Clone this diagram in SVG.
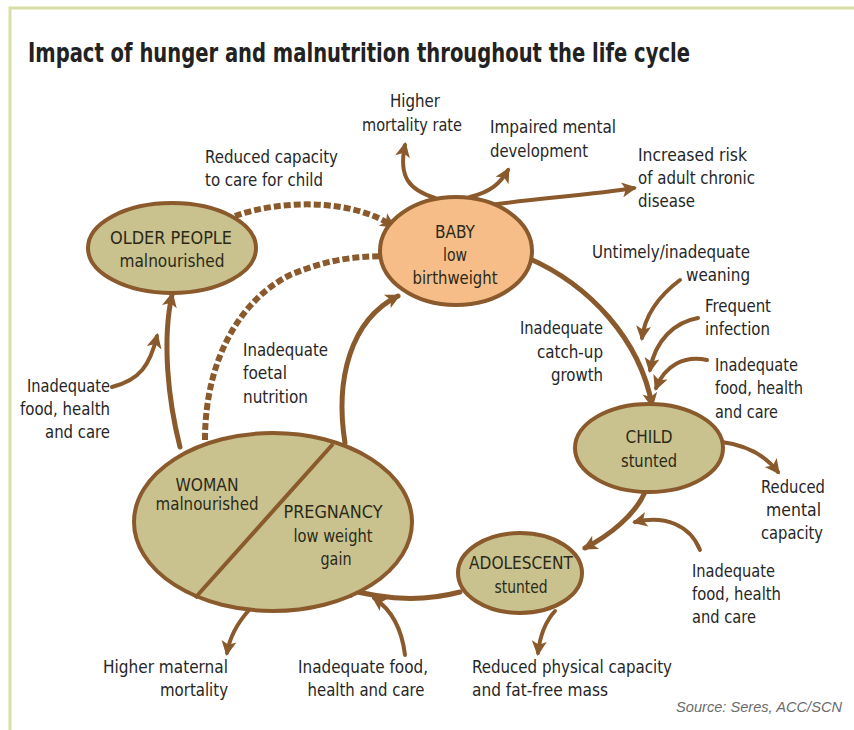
<svg xmlns="http://www.w3.org/2000/svg" width="854" height="730" viewBox="0 0 854 730">
<style>
.t{font-family:"DejaVu Sans Condensed","Liberation Sans Narrow","Liberation Sans",sans-serif;font-size:17px;fill:#262626}
.n{font-family:"DejaVu Sans Condensed","Liberation Sans Narrow","Liberation Sans",sans-serif;font-size:17px;fill:#2b2a18}
.node{fill:#c9c28e;stroke:#8a5a2c;stroke-width:4}
.c{fill:none;stroke:#8a5a2c;stroke-width:5;stroke-linecap:round}
.i{fill:none;stroke:#8a5a2c;stroke-width:4;stroke-linecap:round}
.d{fill:none;stroke:#8a5a2c;stroke-width:6;stroke-dasharray:7 3}
</style>
<defs>
<marker id="ah" viewBox="0 0 10 10" refX="8" refY="5" markerWidth="17" markerHeight="15" markerUnits="userSpaceOnUse" orient="auto">
<path d="M0,0 L10,5 L0,10 L2.5,5 Z" fill="#8a5a2c"/>
</marker>
</defs>
<rect width="854" height="730" fill="#ffffff"/>
<path d="M10,730 L10,8 L854,8" fill="none" stroke="#d9dfa6" stroke-width="3"/>
<text x="28" y="62" font-family="DejaVu Sans Condensed,Liberation Sans Narrow,Liberation Sans,sans-serif" font-size="26" font-weight="bold" fill="#222" textLength="662" lengthAdjust="spacingAndGlyphs">Impact of hunger and malnutrition throughout the life cycle</text>

<g id="connectors">
<path class="d" d="M235,216 C280,200 350,198 393,226" marker-end="url(#ah)"/>
<path class="d" d="M205,440 C205,360 240,300 290,275 C330,258 360,256 393,256" marker-end="url(#ah)"/>
<path class="c" d="M180,447 C168,400 162,340 172,295" marker-end="url(#ah)"/>
<path class="i" d="M112,387 C140,380 150,365 157,336" marker-end="url(#ah)"/>
<path class="c" d="M345,443 C335,380 350,320 398,296" marker-end="url(#ah)"/>
<path class="i" d="M435,198 C410,190 398,178 405,145" marker-end="url(#ah)"/>
<path class="i" d="M470,197 C490,192 500,184 508,170" marker-end="url(#ah)"/>
<path class="i" d="M490,205 C540,198 590,195 634,188" marker-end="url(#ah)"/>
<path class="c" d="M528,258 C590,285 640,340 652,405" marker-end="url(#ah)"/>
<path class="i" d="M680,280 C660,295 645,315 642,338" marker-end="url(#ah)"/>
<path class="i" d="M698,318 C675,322 655,340 650,370" marker-end="url(#ah)"/>
<path class="i" d="M707,360 C685,355 665,365 656,388" marker-end="url(#ah)"/>
<path class="i" d="M722,442 C745,445 765,455 778,472" marker-end="url(#ah)"/>
<path class="c" d="M645,492 C635,515 610,535 585,548" marker-end="url(#ah)"/>
<path class="i" d="M700,550 C690,525 665,515 635,522" marker-end="url(#ah)"/>
<path class="c" d="M460,592 C430,600 390,602 343,588" stroke-width="7" marker-end="url(#ah)"/>
<path class="i" d="M405,655 C402,630 392,610 374,598" marker-end="url(#ah)"/>
<path class="i" d="M250,609 C238,622 230,635 227,653" marker-end="url(#ah)"/>
<path class="i" d="M555,611 C545,622 540,635 538,653" marker-end="url(#ah)"/>
</g>

<g id="older">
<ellipse class="node" cx="172" cy="248" rx="84" ry="45"/>
<text class="n" x="171" y="244" text-anchor="middle" textLength="122" lengthAdjust="spacingAndGlyphs">OLDER PEOPLE</text>
<text class="n" x="172" y="267" text-anchor="middle" textLength="105" lengthAdjust="spacingAndGlyphs">malnourished</text>
</g>
<g id="baby">
<ellipse cx="456" cy="251" rx="76" ry="54" fill="#f7bd88" stroke="#8a5a2c" stroke-width="4"/>
<text class="n" x="455" y="238" text-anchor="middle" textLength="40" lengthAdjust="spacingAndGlyphs">BABY</text>
<text class="n" x="455" y="261" text-anchor="middle" textLength="24" lengthAdjust="spacingAndGlyphs">low</text>
<text class="n" x="455" y="284" text-anchor="middle" textLength="85" lengthAdjust="spacingAndGlyphs">birthweight</text>
</g>
<g id="child">
<ellipse class="node" cx="649" cy="448" rx="74" ry="44"/>
<text class="n" x="649" y="443" text-anchor="middle" textLength="47" lengthAdjust="spacingAndGlyphs">CHILD</text>
<text class="n" x="649" y="467" text-anchor="middle" textLength="56" lengthAdjust="spacingAndGlyphs">stunted</text>
</g>
<g id="adolescent">
<ellipse class="node" cx="520" cy="573" rx="62" ry="40"/>
<text class="n" x="521" y="569" text-anchor="middle" textLength="104" lengthAdjust="spacingAndGlyphs">ADOLESCENT</text>
<text class="n" x="521" y="593" text-anchor="middle" textLength="53" lengthAdjust="spacingAndGlyphs">stunted</text>
</g>
<g id="woman-pregnancy">
<ellipse class="node" cx="273" cy="522" rx="139" ry="89"/>
<path d="M333,444 L195,598" stroke="#8a5a2c" stroke-width="4"/>
<text class="n" x="207" y="491" text-anchor="middle" textLength="63" lengthAdjust="spacingAndGlyphs">WOMAN</text>
<text class="n" x="207" y="510" text-anchor="middle" textLength="103" lengthAdjust="spacingAndGlyphs">malnourished</text>
<text class="n" x="333" y="518" text-anchor="middle" textLength="99" lengthAdjust="spacingAndGlyphs">PREGNANCY</text>
<text class="n" x="333" y="542" text-anchor="middle" textLength="79" lengthAdjust="spacingAndGlyphs">low weight</text>
<text class="n" x="336" y="565" text-anchor="middle" textLength="31" lengthAdjust="spacingAndGlyphs">gain</text>
</g>

<g id="labels">
<text class="t" x="415" y="107" text-anchor="middle" textLength="50" lengthAdjust="spacingAndGlyphs">Higher</text>
<text class="t" x="412" y="131" text-anchor="middle" textLength="100" lengthAdjust="spacingAndGlyphs">mortality rate</text>
<text class="t" x="205" y="163" textLength="133" lengthAdjust="spacingAndGlyphs">Reduced capacity</text>
<text class="t" x="205" y="186" textLength="118" lengthAdjust="spacingAndGlyphs">to care for child</text>
<text class="t" x="490" y="133" textLength="126" lengthAdjust="spacingAndGlyphs">Impaired mental</text>
<text class="t" x="490" y="157" textLength="98" lengthAdjust="spacingAndGlyphs">development</text>
<text class="t" x="638" y="161" textLength="109" lengthAdjust="spacingAndGlyphs">Increased risk</text>
<text class="t" x="638" y="184" textLength="117" lengthAdjust="spacingAndGlyphs">of adult chronic</text>
<text class="t" x="638" y="207" textLength="57" lengthAdjust="spacingAndGlyphs">disease</text>
<text class="t" x="750" y="258" text-anchor="end" textLength="158" lengthAdjust="spacingAndGlyphs">Untimely/inadequate</text>
<text class="t" x="750" y="281" text-anchor="end" textLength="64" lengthAdjust="spacingAndGlyphs">weaning</text>
<text class="t" x="705" y="312" textLength="66" lengthAdjust="spacingAndGlyphs">Frequent</text>
<text class="t" x="705" y="335" textLength="65" lengthAdjust="spacingAndGlyphs">infection</text>
<text class="t" x="715" y="371" textLength="83" lengthAdjust="spacingAndGlyphs">Inadequate</text>
<text class="t" x="715" y="394" textLength="88" lengthAdjust="spacingAndGlyphs">food, health</text>
<text class="t" x="715" y="418" textLength="63" lengthAdjust="spacingAndGlyphs">and care</text>
<text class="t" x="603" y="334" text-anchor="end" textLength="83" lengthAdjust="spacingAndGlyphs">Inadequate</text>
<text class="t" x="603" y="358" text-anchor="end" textLength="66" lengthAdjust="spacingAndGlyphs">catch-up</text>
<text class="t" x="603" y="381" text-anchor="end" textLength="52" lengthAdjust="spacingAndGlyphs">growth</text>
<text class="t" x="243" y="356" textLength="85" lengthAdjust="spacingAndGlyphs">Inadequate</text>
<text class="t" x="243" y="379" textLength="44" lengthAdjust="spacingAndGlyphs">foetal</text>
<text class="t" x="243" y="403" textLength="65" lengthAdjust="spacingAndGlyphs">nutrition</text>
<text class="t" x="110" y="392" text-anchor="end" textLength="83" lengthAdjust="spacingAndGlyphs">Inadequate</text>
<text class="t" x="110" y="415" text-anchor="end" textLength="90" lengthAdjust="spacingAndGlyphs">food, health</text>
<text class="t" x="110" y="438" text-anchor="end" textLength="65" lengthAdjust="spacingAndGlyphs">and care</text>
<text class="t" x="761" y="493" textLength="64" lengthAdjust="spacingAndGlyphs">Reduced</text>
<text class="t" x="766" y="516" textLength="55" lengthAdjust="spacingAndGlyphs">mental</text>
<text class="t" x="761" y="539" textLength="62" lengthAdjust="spacingAndGlyphs">capacity</text>
<text class="t" x="692" y="577" textLength="83" lengthAdjust="spacingAndGlyphs">Inadequate</text>
<text class="t" x="692" y="600" textLength="89" lengthAdjust="spacingAndGlyphs">food, health</text>
<text class="t" x="692" y="623" textLength="64" lengthAdjust="spacingAndGlyphs">and care</text>
<text class="t" x="228" y="673" text-anchor="end" textLength="125" lengthAdjust="spacingAndGlyphs">Higher maternal</text>
<text class="t" x="228" y="696" text-anchor="end" textLength="68" lengthAdjust="spacingAndGlyphs">mortality</text>
<text class="t" x="363" y="673" text-anchor="middle" textLength="130" lengthAdjust="spacingAndGlyphs">Inadequate food,</text>
<text class="t" x="366" y="696" text-anchor="middle" textLength="117" lengthAdjust="spacingAndGlyphs">health and care</text>
<text class="t" x="472" y="673" textLength="200" lengthAdjust="spacingAndGlyphs">Reduced physical capacity</text>
<text class="t" x="472" y="696" textLength="136" lengthAdjust="spacingAndGlyphs">and fat-free mass</text>
<text x="842" y="712" text-anchor="end" font-family="Liberation Sans,sans-serif" font-size="15" font-style="italic" fill="#6b6b6b" textLength="166" lengthAdjust="spacingAndGlyphs">Source: Seres, ACC/SCN</text>
</g>
</svg>
